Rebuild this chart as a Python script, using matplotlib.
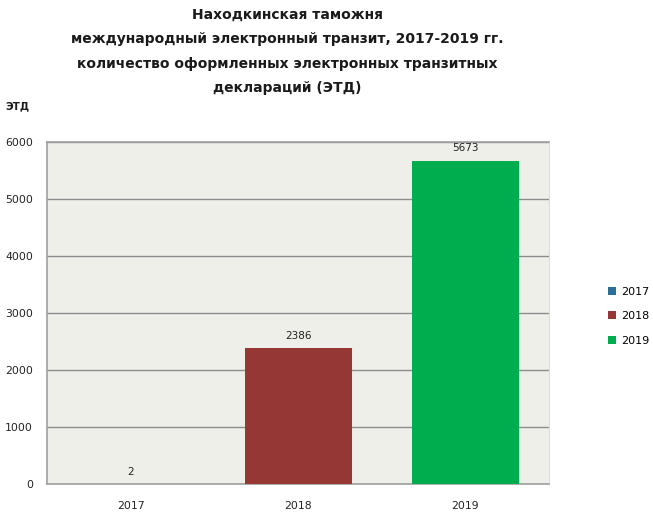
import matplotlib
matplotlib.use('Agg')
import matplotlib.pyplot as plt
from matplotlib.patches import Patch

plt.rcParams['font.family'] = ['DejaVu Sans']

years = ['2017', '2018', '2019']
counts = [2, 2386, 5673]
colors = ['#2C6E96', '#953735', '#00AD4E']

title = ('Находкинская таможня\n'
         'международный электронный транзит, 2017-2019 гг.\n'
         'количество оформленных электронных транзитных\n'
         'деклараций (ЭТД)')

fig = plt.figure(figsize=(6.53, 5.19), dpi=100)
ax = fig.add_axes([0.072, 0.067, 0.769, 0.659])
ax.set_facecolor('#EFEFEA')

x = range(len(years))
bars = ax.bar(x, counts, width=0.64, color=colors, zorder=3)
for xi, v in zip(x, counts):
    ax.text(xi, v + 130, str(v), ha='center', va='bottom', fontsize=7.5, color='#222222')

ax.set_xlim(-0.5, 2.5)
ax.set_ylim(0, 6000)
ax.set_yticks(range(0, 6001, 1000))
ax.set_xticks(list(x))
ax.set_xticklabels(years)
ax.tick_params(axis='both', length=0, labelsize=7.8, colors='#222222')
ax.tick_params(axis='x', pad=12)
ax.tick_params(axis='y', pad=10)
ax.grid(axis='y', color='#8C8C8C', linewidth=1, zorder=1)

for s in ['left', 'top', 'bottom']:
    ax.spines[s].set_color('#A0A0A0')
    ax.spines[s].set_linewidth(1.2)
ax.spines['right'].set_color('#DDDDDD')

fig.text(0.44, 0.985, title, ha='center', va='top', fontsize=10,
         fontweight='bold', color='#1A1A1A', linespacing=1.95)
fig.text(0.008, 0.795, 'ЭТД', ha='left', va='center', fontsize=7.5,
         fontweight='bold', color='#1A1A1A')

handles = [Patch(facecolor=c, label=y) for c, y in zip(colors, years)]
fig.legend(handles=handles, loc='center left', bbox_to_anchor=(0.925, 0.391),
           frameon=False, fontsize=8, handlelength=0.7, handleheight=0.7,
           handletextpad=0.4, labelspacing=1.3, borderaxespad=0)

fig.savefig('out.png', dpi=100)
